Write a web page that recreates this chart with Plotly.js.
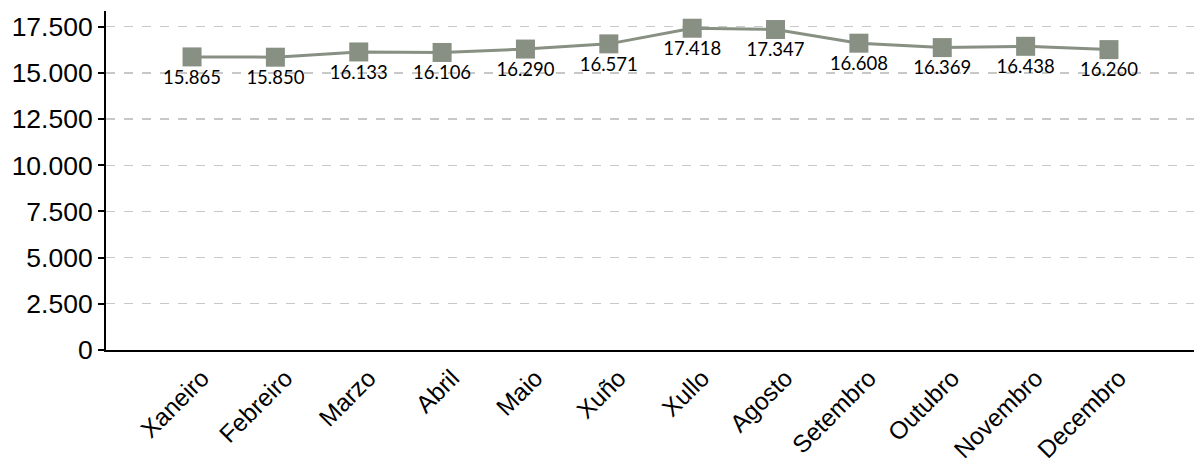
<!DOCTYPE html>
<html>
<head>
<meta charset="utf-8">
<script src="https://cdn.plot.ly/plotly-3.0.1.min.js"></script>
<style>html,body{margin:0;padding:0;background:#fff;}#chart{width:1194px;height:464px;}</style>
</head>
<body>
<div id="chart"></div>
<script>
const months = ["Xaneiro","Febreiro","Marzo","Abril","Maio","Xuño","Xullo","Agosto","Setembro","Outubro","Novembro","Decembro"];
const values = [15865, 15850, 16133, 16106, 16290, 16571, 17418, 17347, 16608, 16369, 16438, 16260];
const yTicks = [0, 2500, 5000, 7500, 10000, 12500, 15000, 17500];

const trace = {
  x: months,
  y: values,
  type: 'scatter',
  mode: 'lines+markers+text',
  line: {color: '#879082', width: 3},
  marker: {symbol: 'square', size: 19, color: '#879082'},
  texttemplate: '%{y:,d}',
  textposition: 'bottom center',
  textfont: {family: 'Lato, "Noto Sans", sans-serif', size: 18.5, color: '#000'},
  hoverinfo: 'skip',
  cliponaxis: false
};

const layout = {
  width: 1194,
  height: 464,
  margin: {l: 106, r: 0, t: 11, b: 114},
  paper_bgcolor: '#fff',
  plot_bgcolor: '#fff',
  separators: ',.',
  showlegend: false,
  font: {family: '"Liberation Sans", Arial, sans-serif', color: '#000'},
  xaxis: {
    type: 'category',
    range: [-1.032, 12.02],
    showgrid: false,
    showline: true,
    linecolor: '#000',
    linewidth: 2,
    ticks: '',
    tickangle: -45,
    ticklabelshift: 10,
    ticklabelstandoff: 2,
    tickfont: {size: 24.5, color: '#000'},
    zeroline: false,
    fixedrange: true
  },
  yaxis: {
    range: [0, 18350],
    tickvals: yTicks,
    tickformat: ',d',
    showgrid: true,
    gridcolor: '#c8c8c8',
    gridwidth: 1.3,
    griddash: 'dash',
    showline: true,
    linecolor: '#000',
    linewidth: 2,
    ticks: 'outside',
    ticklen: 6,
    tickwidth: 2,
    tickcolor: '#000',
    tickfont: {size: 26.5, color: '#000'},
    zeroline: false,
    fixedrange: true
  }
};

Plotly.newPlot('chart', [trace], layout, {displayModeBar: false, staticPlot: true});
</script>
</body>
</html>
